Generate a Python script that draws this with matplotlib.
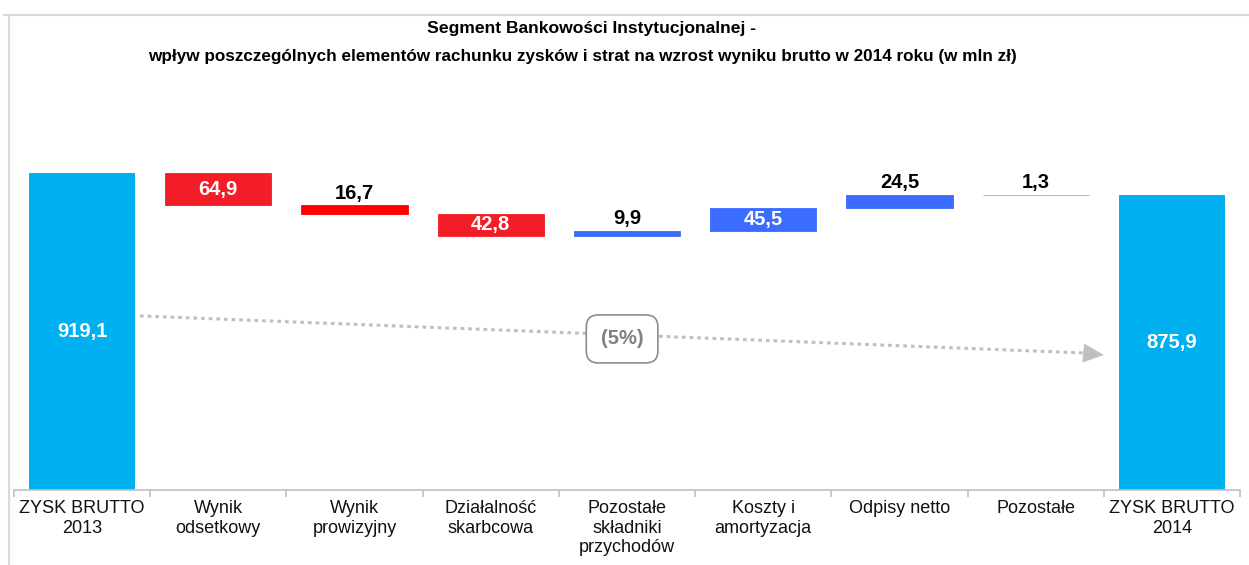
import matplotlib
matplotlib.use('Agg')
import matplotlib.pyplot as plt
from matplotlib.lines import Line2D
import numpy as np

plt.rcParams['font.family'] = ['Liberation Sans', 'DejaVu Sans']

# ---- data ----
categories = ['ZYSK BRUTTO\n2013', 'Wynik\nodsetkowy', 'Wynik\nprowizyjny',
              'Działalność\nskarbcowa', 'Pozostałe\nskładniki\nprzychodów',
              'Koszty i\namortyzacja', 'Odpisy netto', 'Pozostałe',
              'ZYSK BRUTTO\n2014']
start_value = 919.1
changes = [-64.9, -16.7, -42.8, 9.9, 45.5, 24.5, 1.3]
end_value = 875.9
change_label = '(5%)'
title_line1 = 'Segment Bankowości Instytucjonalnej -'
title_line2 = 'wpływ poszczególnych elementów rachunku zysków i strat na wzrost wyniku brutto w 2014 roku (w mln zł)'

# ---- styles ----
total_color = '#00B0F0'
change_colors = ['#F21D26', '#FF0000', '#F21D26', '#3B6EF5', '#3C6CFF', '#3C6CFF', '#8FAAFF']
axis_color = '#BFBFBF'
y_min, y_max = 291, 964
bar_w = 0.78


def fmt(v):
    return f"{abs(v):.1f}".replace('.', ',')


fig = plt.figure(figsize=(12.49, 5.65), dpi=100)
ax = fig.add_axes([14 / 1249, 75 / 565, 1226 / 1249, 340 / 565])

x = np.arange(len(categories))

# totals
ax.bar([x[0], x[-1]], [start_value, end_value], width=bar_w, color=total_color, zorder=2)
for xi, v in [(x[0], start_value), (x[-1], end_value)]:
    ax.text(xi, (y_min + v) / 2, fmt(v), ha='center', va='center', color='white',
            fontsize=14.5, fontweight='bold', zorder=4)

# changes
level = start_value
for i, (c, col) in enumerate(zip(changes, change_colors)):
    xi = x[i + 1]
    new_level = level + c
    bottom = min(level, new_level)
    h = abs(c)
    ax.bar(xi, h, bottom=bottom, width=bar_w, color=col, edgecolor=col,
           linewidth=0.6, zorder=2)
    if h > 30:
        ax.text(xi, bottom + h / 2, fmt(c), ha='center', va='center', color='white',
                fontsize=14.5, fontweight='bold', zorder=4)
    else:
        ax.annotate(fmt(c), (xi, bottom + h), xytext=(0, 2), textcoords='offset points',
                    ha='center', va='bottom', color='black', fontsize=14.5,
                    fontweight='bold', zorder=4)
    level = new_level

ax.set_xlim(-0.5, len(categories) - 0.5)
ax.set_ylim(y_min, y_max)

for s in ['top', 'right', 'left']:
    ax.spines[s].set_visible(False)
ax.spines['bottom'].set_color(axis_color)
ax.spines['bottom'].set_linewidth(1.2)
ax.set_yticks([])
ax.set_xticks(x)
ax.set_xticklabels(categories, fontsize=13, color='#111111', linespacing=1.22)
ax.set_xticks(np.arange(-0.5, len(categories)), minor=True)
ax.tick_params(axis='x', which='major', length=0, pad=7)
ax.tick_params(axis='x', which='minor', length=5, color=axis_color, width=1.2)

# trend arrow
x0, y0 = 0.425, 635.6
x1, y1 = 7.38, 562.0
xt, yt = 7.50, 558.3
ax.plot([x0, x1], [y0, y1], color='#BFBFBF', lw=2.2, dashes=(1.2, 1.3),
        dash_capstyle='butt', zorder=1)
ax.annotate('', xy=(xt, yt), xytext=(x1 - 0.05, y1 + 0.5),
            arrowprops=dict(arrowstyle='-|>,head_length=1.4,head_width=0.65',
                            color='#BFBFBF', lw=0.5, shrinkA=0, shrinkB=0), zorder=1)
ax.text(3.964, 590, change_label, ha='center', va='center', fontsize=14.5,
        fontweight='bold', color='#808080', zorder=3,
        bbox=dict(boxstyle='round,pad=0.72,rounding_size=0.6', fc='white',
                  ec='#8C8C8C', lw=1.2))

# title
fig.text(592 / 1249, 1 - 29 / 565, title_line1, ha='center', va='center',
         fontsize=12.6, fontweight='bold')
fig.text(582 / 1249, 1 - 56 / 565, title_line2, ha='center', va='center',
         fontsize=12.35, fontweight='bold')

# frame lines
fig.add_artist(Line2D([4 / 1249, 1], [1 - 15 / 565, 1 - 15 / 565], color='#D9D9D9', lw=1.5))
fig.add_artist(Line2D([9 / 1249, 9 / 1249], [0, 1 - 15 / 565], color='#D9D9D9', lw=1.5))

fig.savefig('out.png', dpi=100)
